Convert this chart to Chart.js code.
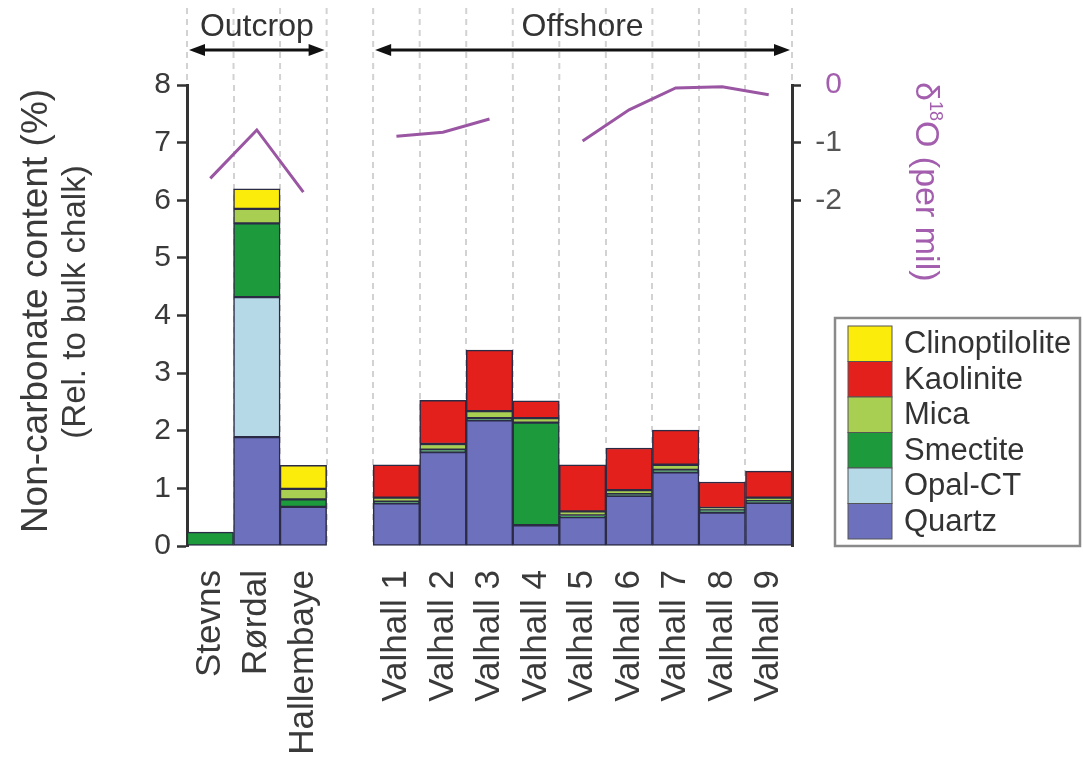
<!DOCTYPE html>
<html lang="en">
<head>
<meta charset="UTF-8">
<title>Non-carbonate content</title>
<script src="https://cdn.jsdelivr.net/npm/chart.js"></script>
<style>
  body { margin: 0; background: #fff; }
  #wrap { width: 1083px; height: 758px; }
</style>
</head>
<body>
<div id="wrap"><canvas id="chart" width="1083" height="758"></canvas></div>
<script>
// sites (empty slot = gap between outcrop and offshore)
const sites = ['Stevns', 'Rørdal', 'Hallembaye', '', 'Valhall 1', 'Valhall 2', 'Valhall 3',
  'Valhall 4', 'Valhall 5', 'Valhall 6', 'Valhall 7', 'Valhall 8', 'Valhall 9'];

// non-carbonate content (%), stacked bottom to top
const quartz         = [0,    1.89, 0.68, null, 0.74, 1.63, 2.18, 0.36, 0.50, 0.87, 1.28, 0.58, 0.75];
const opalCT         = [0,    2.43, 0,    null, 0,    0,    0,    0,    0,    0,    0,    0,    0];
const smectite       = [0.24, 1.28, 0.13, null, 0.03, 0.04, 0.04, 1.78, 0.03, 0.03, 0.04, 0.05, 0.03];
const mica           = [0,    0.25, 0.18, null, 0.07, 0.10, 0.12, 0.08, 0.07, 0.07, 0.09, 0.03, 0.06];
const kaolinite      = [0,    0,    0,    null, 0.57, 0.76, 1.06, 0.30, 0.81, 0.73, 0.60, 0.45, 0.46];
const clinoptilolite = [0,    0.35, 0.41, null, 0,    0,    0,    0,    0,    0,    0,    0,    0];

// delta 18O (per mil)
const d18O = [-1.62, -0.78, -1.86, null, -0.89, -0.82, -0.59, null, -0.97, -0.43, -0.05, -0.03, -0.17];

const leftTicks = [0, 1, 2, 3, 4, 5, 6, 7, 8];
const rightTicks = [0, -1, -2];

const groups = [
  { label: 'Outcrop', from: 0, to: 2 },
  { label: 'Offshore', from: 4, to: 12 }
];

const FONT = "'Liberation Sans', Arial, sans-serif";
Chart.defaults.font.family = FONT;
Chart.defaults.color = '#3a3a3a';

function bar(label, data, color) {
  return {
    type: 'bar', label, data, backgroundColor: color,
    borderColor: '#2b2b45', borderWidth: 1.5, borderSkipped: false,
    barPercentage: 1, categoryPercentage: 1, stack: 's', order: 1
  };
}

function arrow(ctx, x1, x2, y) {
  const h = 16, w = 6;
  ctx.beginPath();
  ctx.moveTo(x1 + h - 2, y); ctx.lineTo(x2 - h + 2, y);
  ctx.stroke();
  ctx.beginPath();
  ctx.moveTo(x1, y); ctx.lineTo(x1 + h, y - w); ctx.lineTo(x1 + h, y + w); ctx.closePath();
  ctx.moveTo(x2, y); ctx.lineTo(x2 - h, y - w); ctx.lineTo(x2 - h, y + w); ctx.closePath();
  ctx.fill();
}

function vText(ctx, text, x, y, size, color, angle) {
  ctx.save();
  ctx.translate(x, y);
  ctx.rotate(angle);
  ctx.fillStyle = color;
  ctx.font = size + 'px ' + FONT;
  ctx.textAlign = 'center';
  ctx.textBaseline = 'middle';
  ctx.fillText(text, 0, 0);
  ctx.restore();
}

const decor = {
  id: 'decor',
  beforeDatasetsDraw(chart) {
    // dashed separators continue above the plot
    const { ctx, chartArea, scales: { x } } = chart;
    ctx.save();
    ctx.strokeStyle = '#d2d2d2';
    ctx.lineWidth = 2;
    ctx.setLineDash([6, 5]);
    for (let i = 0; i <= sites.length; i++) {
      const px = x.getPixelForValue(i - 0.5);
      ctx.beginPath(); ctx.moveTo(px, 8); ctx.lineTo(px, chartArea.top); ctx.stroke();
    }
    ctx.restore();
  },
  afterDraw(chart) {
    const { ctx, chartArea, scales: { x } } = chart;
    ctx.save();

    // group arrows
    ctx.strokeStyle = '#111';
    ctx.lineWidth = 3;
    groups.forEach(g => {
      const x1 = x.getPixelForValue(g.from - 0.5);
      const x2 = x.getPixelForValue(g.to + 0.5);
      ctx.fillStyle = '#111';
      arrow(ctx, x1 + 2, x2 - 2, 50);
      ctx.fillStyle = '#333';
      ctx.font = '32px ' + FONT;
      ctx.textAlign = 'center';
      ctx.textBaseline = 'middle';
      ctx.fillText(g.label, (x1 + x2) / 2, 27);
    });

    // left axis title, two lines
    vText(ctx, 'Non-carbonate content (%)', 37, 311, 37, '#3a3a3a', -Math.PI / 2);
    vText(ctx, '(Rel. to bulk chalk)', 76, 302, 33, '#3a3a3a', -Math.PI / 2);

    // d18O axis title
    ctx.save();
    ctx.translate(925, 82);
    ctx.rotate(Math.PI / 2);
    ctx.fillStyle = '#a35fae';
    ctx.textAlign = 'left';
    ctx.textBaseline = 'middle';
    ctx.font = '34px ' + FONT;
    ctx.fillText('δ', 0, 0);
    let cx = ctx.measureText('δ').width;
    ctx.font = '18px ' + FONT;
    ctx.fillText('18', cx, -10);
    cx += ctx.measureText('18').width;
    ctx.font = '34px ' + FONT;
    ctx.fillText('O (per mil)', cx, 0);
    ctx.restore();

    // legend
    const bars = chart.data.datasets.filter(d => d.type === 'bar').slice().reverse();
    const lx = 835, ly = 318, lw = 245, lh = chartArea.bottom - ly;
    ctx.strokeStyle = '#8a8a8a';
    ctx.lineWidth = 2.5;
    ctx.strokeRect(lx, ly, lw, lh);
    const sh = 35.5, sy = ly + 8;
    bars.forEach((d, i) => {
      const y = sy + i * sh;
      ctx.fillStyle = d.backgroundColor;
      ctx.fillRect(848, y, 44, sh);
      ctx.strokeStyle = '#555';
      ctx.lineWidth = 1;
      ctx.strokeRect(848, y, 44, sh);
      ctx.fillStyle = '#333';
      ctx.font = '31px ' + FONT;
      ctx.textAlign = 'left';
      ctx.textBaseline = 'middle';
      ctx.fillText(d.label, 904, y + sh / 2 + 1);
    });
    ctx.restore();
  }
};

new Chart(document.getElementById('chart'), {
  data: {
    labels: sites,
    datasets: [
      {
        type: 'line', label: 'δ18O', data: d18O, yAxisID: 'y2',
        borderColor: '#9a56a2', borderWidth: 3, pointRadius: 0,
        tension: 0, spanGaps: false, order: 0
      },
      bar('Quartz', quartz, '#6c70bd'),
      bar('Opal-CT', opalCT, '#b5d9e6'),
      bar('Smectite', smectite, '#1d9a3c'),
      bar('Mica', mica, '#a9cf52'),
      bar('Kaolinite', kaolinite, '#e3201b'),
      bar('Clinoptilolite', clinoptilolite, '#fbec0c')
    ]
  },
  options: {
    responsive: false,
    animation: false,
    layout: { padding: { top: 85, right: 241, left: 0, bottom: 0 } },
    plugins: { legend: { display: false }, tooltip: { enabled: false } },
    scales: {
      x: {
        stacked: true,
        offset: true,
        border: { display: false, dash: [6, 5] },
        grid: { color: '#d2d2d2', lineWidth: 2, drawTicks: false, offset: true },
        ticks: {
          autoSkip: false, minRotation: 90, maxRotation: 90, padding: 24,
          font: { size: 35 }, color: '#3a3a3a'
        },
        afterFit(s) { s.height = 212; }
      },
      y: {
        stacked: true,
        position: 'left',
        min: 0, max: 8,
        afterBuildTicks(s) { s.ticks = leftTicks.map(v => ({ value: v })); },
        border: { color: '#333', width: 3 },
        grid: { drawOnChartArea: false, tickLength: 10, tickColor: '#333', tickWidth: 2.5 },
        ticks: { font: { size: 30 }, padding: 6, color: '#3a3a3a' },
        afterFit(s) { s.width = 187; }
      },
      y2: {
        position: 'right',
        min: -8, max: 0,
        afterBuildTicks(s) { s.ticks = rightTicks.map(v => ({ value: v })); },
        border: { color: '#333', width: 3 },
        grid: { drawOnChartArea: false, tickLength: 9, tickColor: '#333', tickWidth: 2.5 },
        ticks: {
          font: { size: 30 }, crossAlign: 'far',
          color: c => (c.tick && c.tick.value === 0) ? '#a35fae' : '#555'
        },
        afterFit(s) { s.width = 50; }
      }
    }
  },
  plugins: [decor]
});
</script>
</body>
</html>
